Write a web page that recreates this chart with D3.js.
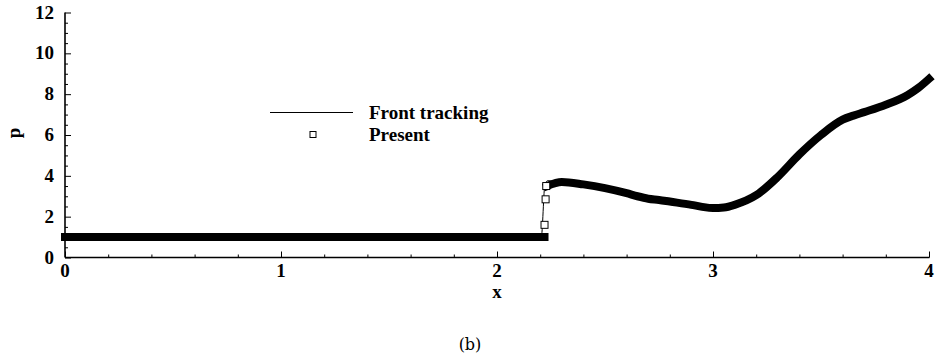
<!DOCTYPE html>
<html>
<head>
<meta charset="utf-8">
<script src="https://cdn.jsdelivr.net/npm/d3@7"></script>
<style>
body { margin: 0; background: #fff; }
text { font-family: "Liberation Serif", "Times New Roman", serif; }
</style>
</head>
<body>
<script>
// Width and height
var w = 938;
var h = 353;

// data
var frontX = [0, 2.205, 2.222, 2.235, 2.3, 2.4, 2.5, 2.6, 2.65, 2.7, 2.75, 2.8, 2.9, 2.95, 3.0, 3.05, 3.1, 3.2, 3.3, 3.4, 3.5, 3.6, 3.65, 3.7, 3.8, 3.9, 3.95, 4.0];
var frontP = [1, 1, 3.6, 3.76, 3.7, 3.58, 3.4, 3.15, 3.0, 2.88, 2.82, 2.74, 2.58, 2.48, 2.42, 2.45, 2.58, 3.05, 3.95, 5.05, 6.0, 6.75, 6.95, 7.12, 7.48, 7.95, 8.3, 8.75];

var presentX = [0, 2.22, 2.225, 2.228, 2.232, 2.3, 2.4, 2.5, 2.6, 2.65, 2.7, 2.75, 2.8, 2.9, 2.95, 3.0, 3.05, 3.1, 3.2, 3.3, 3.4, 3.5, 3.6, 3.65, 3.7, 3.8, 3.9, 3.95, 4.0];
var presentP = [1, 1, 1.6, 2.85, 3.5, 3.7, 3.58, 3.4, 3.15, 3.0, 2.88, 2.82, 2.74, 2.58, 2.48, 2.42, 2.45, 2.58, 3.05, 3.95, 5.05, 6.0, 6.75, 6.95, 7.12, 7.48, 7.95, 8.3, 8.75];
// markers standing apart at the jump
var jumpX = [2.22, 2.225, 2.228];
var jumpP = [1.6, 2.85, 3.5];

var xTicks = [0, 1, 2, 3, 4];
var yTicks = [0, 2, 4, 6, 8, 10, 12];

var mLeft = 65, mRight = 929, mTop = 12.5, mBottom = 257.5;

var x = d3.scaleLinear().domain([0, 4]).range([mLeft, mRight]);
var y = d3.scaleLinear().domain([0, 12]).range([mBottom, mTop]);

var svg = d3.select("body")
	.append("svg")
	.attr("width", w)
	.attr("height", h);

// axes (ticks point inward)
var gx = svg.append("g").attr("transform", "translate(0," + mBottom + ")");
gx.call(d3.axisBottom(x).tickValues(d3.range(0, 4.001, 0.2)).tickSize(-3).tickFormat(""));
gx.selectAll(".tick line").filter(function(d){ return Math.abs(d - Math.round(d)) < 1e-6; }).attr("y2", -6);
gx.select(".domain").remove();

var gy = svg.append("g").attr("transform", "translate(" + mLeft + ",0)");
gy.call(d3.axisLeft(y).tickValues(d3.range(0, 12.001, 0.5)).tickSize(-3).tickFormat(""));
gy.selectAll(".tick line").filter(function(d){ return Math.abs(d / 2 - Math.round(d / 2)) < 1e-6; }).attr("x2", 6);
gy.select(".domain").remove();

svg.selectAll(".tick line").attr("stroke", "#000").attr("stroke-width", 1);

svg.append("line").attr("x1", mLeft).attr("x2", mRight + 0.5).attr("y1", mBottom).attr("y2", mBottom)
	.attr("stroke", "#000").attr("stroke-width", 1.6);
svg.append("line").attr("x1", mLeft).attr("x2", mLeft).attr("y1", mTop).attr("y2", mBottom)
	.attr("stroke", "#000").attr("stroke-width", 1.6);

// tick labels
svg.selectAll(".xl").data(xTicks).enter().append("text")
	.attr("x", function(d){ return x(d); })
	.attr("y", mBottom + 19)
	.attr("text-anchor", "middle")
	.style("font-size", "19px").style("font-weight", "bold")
	.text(function(d){ return d; });

svg.selectAll(".yl").data(yTicks).enter().append("text")
	.attr("x", mLeft - 11)
	.attr("y", function(d){ return y(d) + 6; })
	.attr("text-anchor", "end")
	.style("font-size", "19px").style("font-weight", "bold")
	.text(function(d){ return d; });

svg.append("text").attr("x", x(2)).attr("y", 298).attr("text-anchor", "middle")
	.style("font-size", "19px").style("font-weight", "bold").text("x");
svg.append("text").attr("transform", "translate(20,133) rotate(-90)").attr("text-anchor", "middle")
	.style("font-size", "19px").style("font-weight", "bold").text("p");

// Present: dense squares make a solid band
var presentPts = d3.zip(presentX, presentP);
var smooth = d3.line().curve(d3.curveMonotoneX).x(function(d){ return x(d[0]); }).y(function(d){ return y(d[1]); });

var bandPts = presentPts.filter(function(d){ return d[0] < 2.221 || d[0] > 2.23; });
svg.append("path")
	.attr("d", smooth(bandPts.filter(function(d){ return d[0] <= 2.221; })))
	.attr("fill", "none").attr("stroke", "#000").attr("stroke-width", 8).attr("stroke-linecap", "square");
svg.append("path")
	.attr("d", smooth(bandPts.filter(function(d){ return d[0] > 2.23; })))
	.attr("fill", "none").attr("stroke", "#000").attr("stroke-width", 8).attr("stroke-linecap", "square");

// Front tracking line
svg.append("path")
	.attr("d", smooth(d3.zip(frontX, frontP)))
	.attr("fill", "none").attr("stroke", "#000").attr("stroke-width", 1);

svg.selectAll(".jm").data(d3.zip(jumpX, jumpP)).enter().append("rect")
	.attr("x", function(d){ return x(d[0]) - 3.5; })
	.attr("y", function(d){ return y(d[1]) - 3.5; })
	.attr("width", 7).attr("height", 7)
	.attr("fill", "#fff").attr("stroke", "#000").attr("stroke-width", 1);

// legend
svg.append("line").attr("x1", 270).attr("x2", 353).attr("y1", 112.5).attr("y2", 112.5)
	.attr("stroke", "#000").attr("stroke-width", 1);
svg.append("rect").attr("x", 310).attr("y", 131.5).attr("width", 6).attr("height", 6)
	.attr("fill", "#fff").attr("stroke", "#000").attr("stroke-width", 1);
svg.append("text").attr("x", 369).attr("y", 119).style("font-size", "19px").style("font-weight", "bold").text("Front tracking");
svg.append("text").attr("x", 369).attr("y", 141).style("font-size", "19px").style("font-weight", "bold").text("Present");

// caption
svg.append("text").attr("x", 470).attr("y", 350).attr("text-anchor", "middle")
	.style("font-family", "'DejaVu Serif', serif").style("font-size", "16px").text("(b)");
</script>
</body>
</html>
